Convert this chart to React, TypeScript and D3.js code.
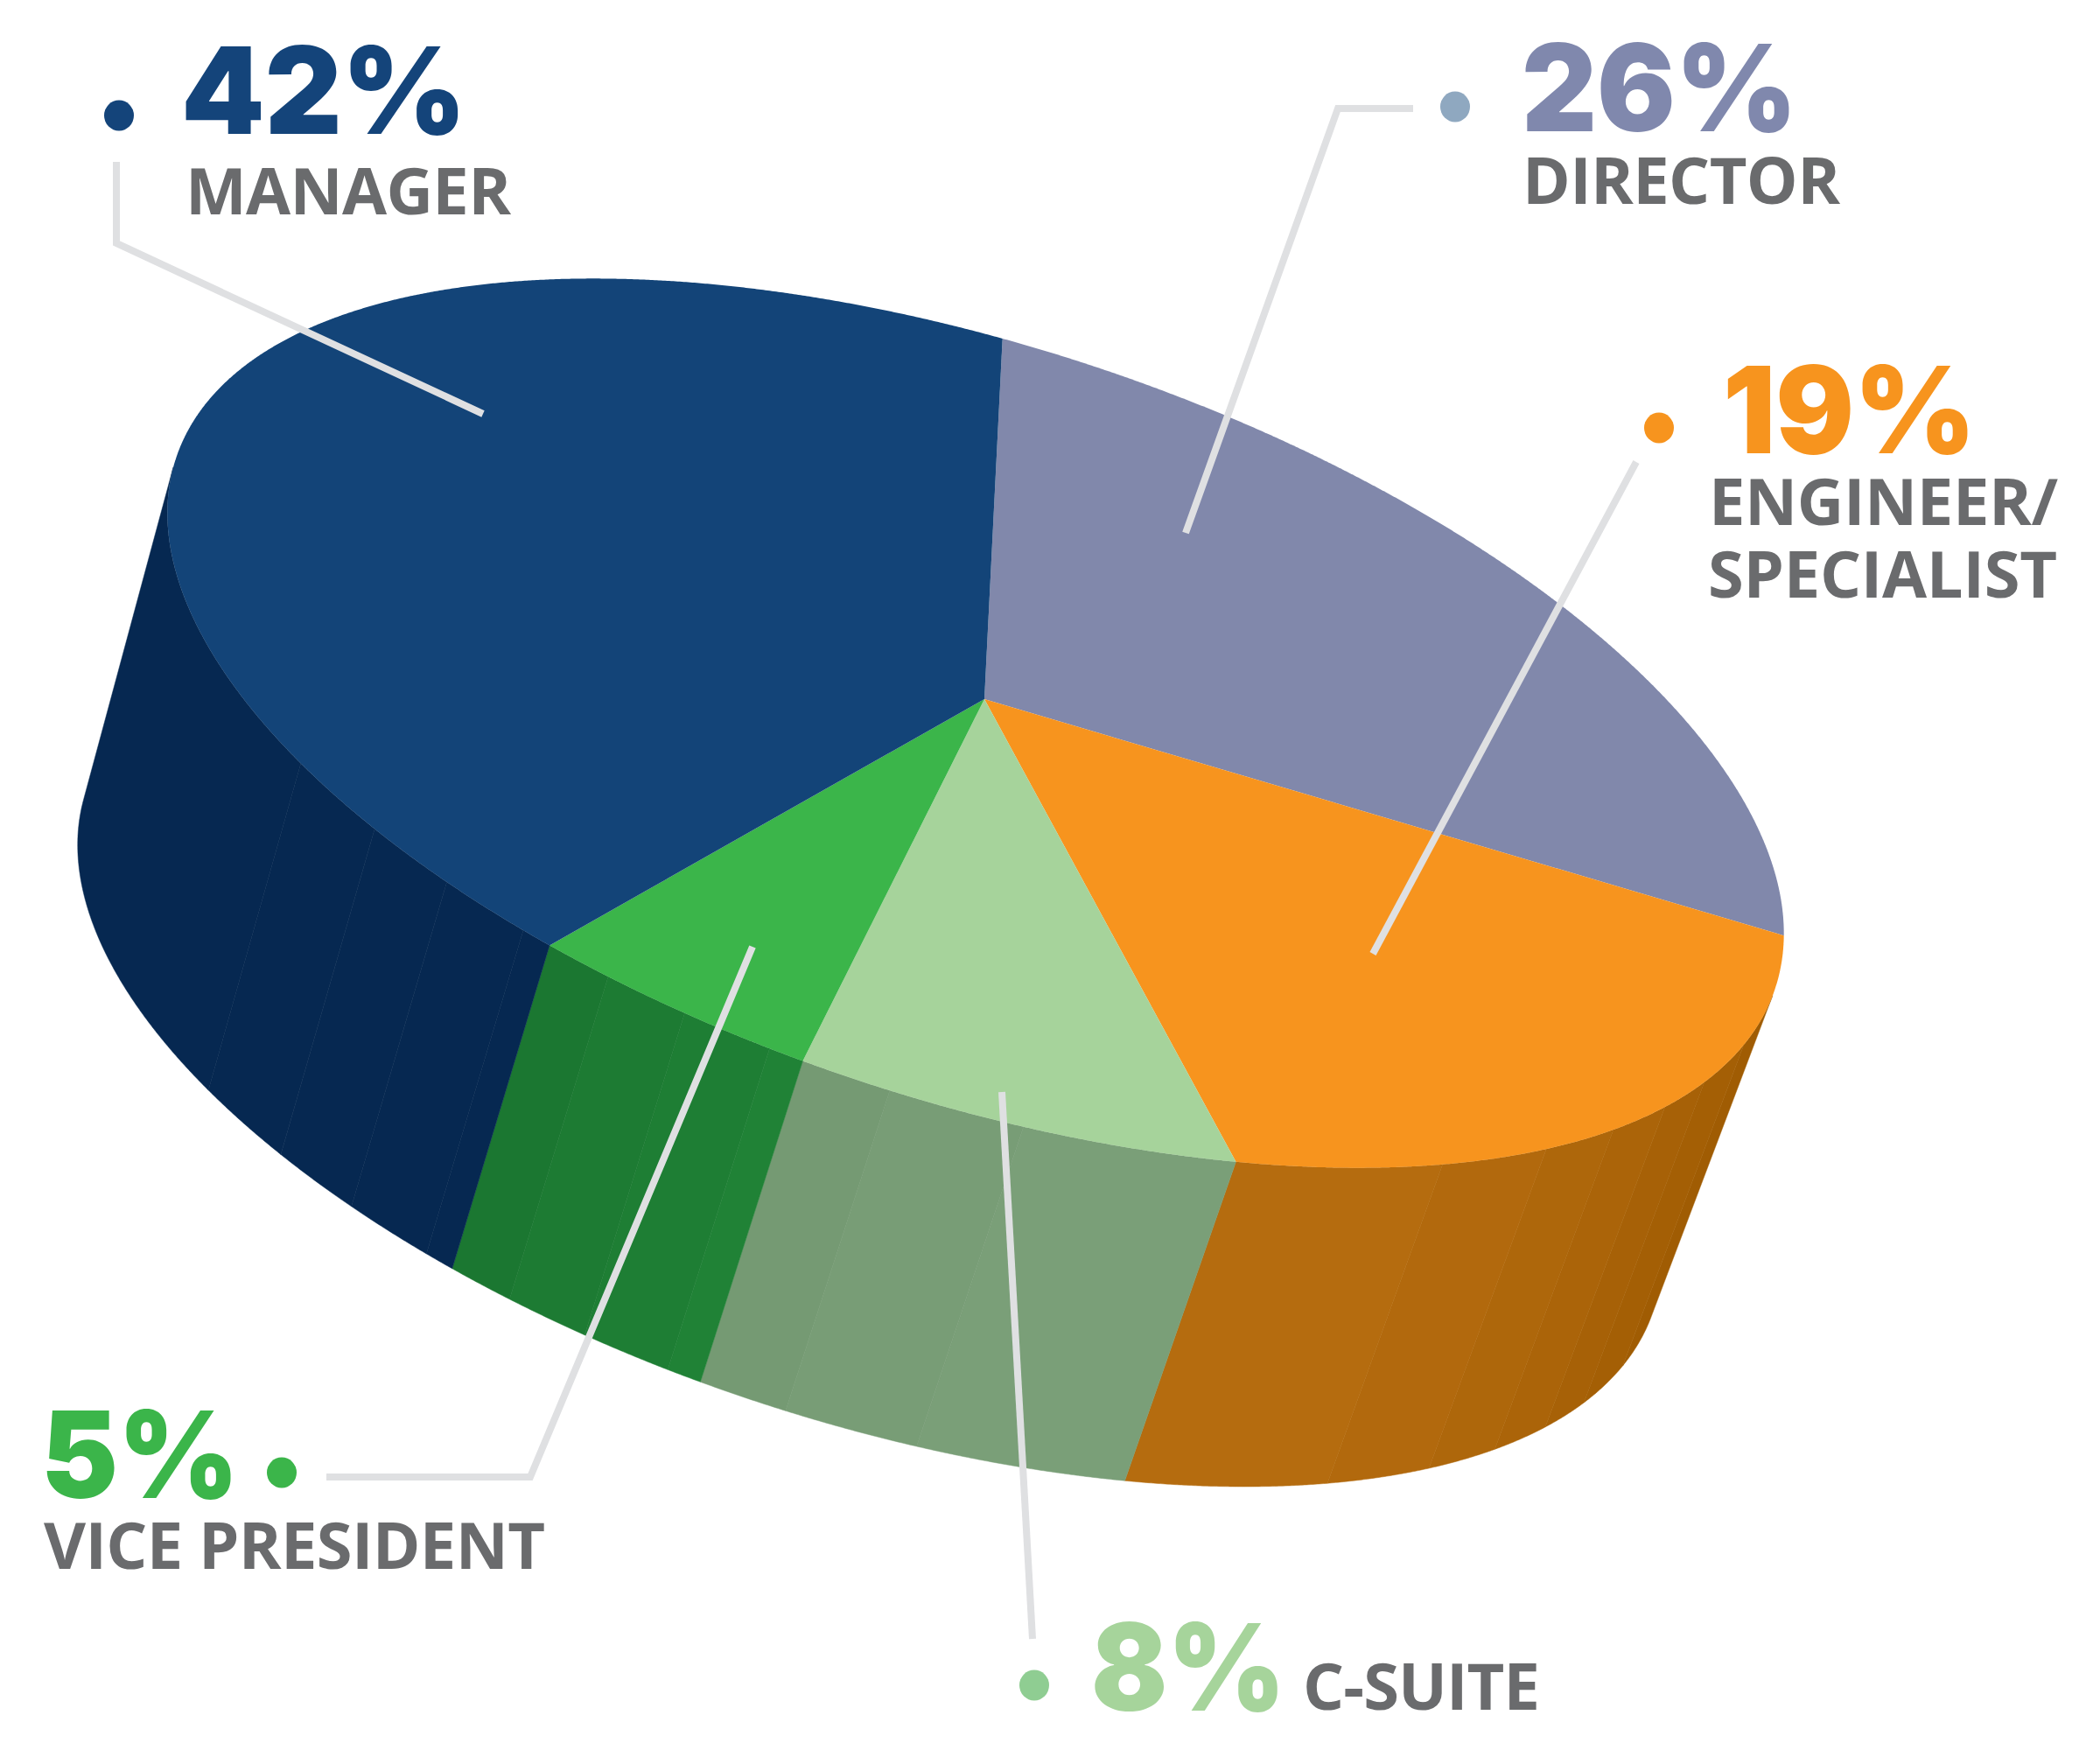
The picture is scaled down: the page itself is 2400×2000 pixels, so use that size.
import React from "react";
import * as d3 from "d3";

const categories = ["Director", "Engineer/Specialist", "C-Suite", "Vice President", "Manager"];
const shares = [26, 19, 8, 5, 42];
const topColors = ["#8188ab", "#f7941e", "#a6d39b", "#3bb54a", "#134478"];
const sideNear = ["#8188ab", "#a05c03", "#7a9f78", "#208236", "#062851"];
const sideFar = ["#8188ab", "#b56c0f", "#759a73", "#1b7731", "#062851"];
const facetStops = [18, 25.6, 31.3, 37.8, 45, 54.6, 86.5, 96, 104.7, 111, 117, 124, 130.7, 137.9, 146.5];

const percentLabels = [
  { text: "26%", x0: 1739, x1: 2054, y: 150, fill: "#8088ad" },
  { text: "19%", x0: 1969, x1: 2258, y: 518, fill: "#f7941e" },
  { text: "8%", x0: 1247, x1: 1469, y: 1955, fill: "#a6d49b" },
  { text: "5%", x0: 47, x1: 273, y: 1712, fill: "#3bb54a" },
  { text: "42%", x0: 207, x1: 533, y: 153, fill: "#14447a" },
];
const nameLabels = [
  { text: "DIRECTOR", x0: 1740, x1: 2103, y: 233 },
  { text: "ENGINEER/", x0: 1953, x1: 2352, y: 600 },
  { text: "SPECIALIST", x0: 1952, x1: 2351, y: 683 },
  { text: "C-SUITE", x0: 1489, x1: 1760, y: 1954 },
  { text: "VICE PRESIDENT", x0: 50, x1: 623, y: 1793 },
  { text: "MANAGER", x0: 212, x1: 584, y: 245 },
];
const legendDots = [
  { x: 1663, y: 122, fill: "#8fa8c0" },
  { x: 1896, y: 489, fill: "#f7941e" },
  { x: 1182, y: 1926, fill: "#8fcd92" },
  { x: 322, y: 1683, fill: "#3bb54a" },
  { x: 136, y: 132, fill: "#14447a" },
];
const leaders: [number, number][][] = [
  [[1615, 124], [1529, 124], [1355, 609]],
  [[1870, 528], [1569, 1090]],
  [[1145, 1248], [1180, 1873]],
  [[373, 1688], [606, 1688], [860, 1082]],
  [[133, 185], [133, 278], [552, 473]],
];

// geometry of the tilted disc
const C = { x: 1115, y: 826.5 };
const L = { xx: 923.7, yx: 240.2, yy: 447.8 };
const apex = { x: 1125, y: 799 };
const K = 0.98;
const C2 = { x: 994, y: 1201 };
const PERSPECTIVE = 1.18;
const START_DEG = 1.3;

const invL = (x: number, y: number) => {
  const nx = x / L.xx;
  return { x: nx, y: (y - L.yx * nx) / L.yy };
};
const pn = invL(apex.x - C.x, apex.y - C.y);
const s0 = Math.hypot(pn.x, pn.y);
const s = s0 * PERSPECTIVE;
const u = { x: pn.x / s0, y: pn.y / s0 };
const v = { x: -u.y, y: u.x };

const disc = (theta: number) => {
  const cx = Math.cos(theta), cy = Math.sin(theta);
  const a = cx * u.x + cy * u.y, b = cx * v.x + cy * v.y;
  const d = 1 + s * a;
  const a2 = (a + s) / d, b2 = (b * Math.sqrt(1 - s * s)) / d;
  return { x: a2 * u.x + b2 * v.x, y: a2 * u.y + b2 * v.y };
};
const top = (n: { x: number; y: number }): [number, number] => [C.x + L.xx * n.x, C.y + L.yx * n.x + L.yy * n.y];
const bot = (n: { x: number; y: number }): [number, number] => [
  C2.x + K * L.xx * n.x,
  C2.y + K * (L.yx * n.x + L.yy * n.y),
];

const dn = invL(C2.x - C.x, C2.y - C.y);
const phi = (Math.atan2(dn.y, dn.x) * 180) / Math.PI;
const delta = (Math.asin((1 - K) / Math.hypot(dn.x, dn.y)) * 180) / Math.PI;
const tR = phi - 90 + delta;
const tL = phi + 90 - delta;

const slices = d3
  .pie<number>()
  .sort(null)
  .startAngle((START_DEG * Math.PI) / 180)
  .endAngle(((START_DEG + 360) * Math.PI) / 180)(shares);

const line = d3.line();
const STEP = 0.003;

const samples = (a0: number, a1: number) =>
  d3.range(a0, a1, STEP).concat(a1).map((a) => disc(a - Math.PI / 2));

type Facet = { d: string; fill: string; key: string };
const facets: Facet[] = [];
slices.forEach((sl, i) => {
  const groups = new Map<number, { x: number; y: number }[]>();
  let prev = -1;
  samples(sl.startAngle, sl.endAngle).forEach((n) => {
    const t = ((Math.atan2(n.y, n.x) * 180) / Math.PI + 360) % 360;
    if (t < tR || t > tL) {
      prev = -1;
      return;
    }
    const idx = d3.bisectLeft(facetStops, t);
    if (!groups.has(idx)) groups.set(idx, []);
    if (prev !== -1 && prev !== idx) groups.get(prev)!.push(n);
    groups.get(idx)!.push(n);
    prev = idx;
  });
  const keys = [...groups.keys()].sort((a, b) => a - b);
  const ramp = d3.interpolateRgb(sideNear[i], sideFar[i]);
  keys.forEach((k, j) => {
    const pts = groups.get(k)!;
    const poly = [...pts.map(top), ...pts.slice().reverse().map(bot)];
    facets.push({
      key: `${i}-${k}`,
      d: line(poly) + "Z",
      fill: ramp(keys.length > 1 ? j / (keys.length - 1) : 0),
    });
  });
});

const tops = slices.map((sl) => {
  const pts = samples(sl.startAngle, sl.endAngle).map(top);
  return line([[apex.x, apex.y], ...pts]) + "Z";
});

export default function App() {
  return (
    <svg
      width={2400}
      height={2000}
      viewBox="0 0 2400 2000"
      style={{ position: "absolute", left: 0, top: 0, background: "#fff" }}
    >
      <g>
        {facets.map((f) => (
          <path key={f.key} d={f.d} fill={f.fill} stroke={f.fill} strokeWidth={0.5} />
        ))}
      </g>
      <g>
        {tops.map((d, i) => (
          <path key={categories[i]} d={d} fill={topColors[i]} />
        ))}
      </g>
      <g fill="none" stroke="#dfe0e2" strokeWidth={8} strokeLinejoin="miter">
        {leaders.map((pts, i) => (
          <path key={i} d={line(pts)!} />
        ))}
      </g>
      <g>
        {legendDots.map((p, i) => (
          <ellipse key={i} cx={p.x} cy={p.y} rx={17} ry={17.5} fill={p.fill} />
        ))}
      </g>
      <g fontFamily="Inter" fontWeight={900} fontSize={138}>
        {percentLabels.map((t) => (
          <text
            key={t.text}
            x={t.x0}
            y={t.y}
            fill={t.fill}
            textLength={t.x1 - t.x0}
            lengthAdjust="spacingAndGlyphs"
          >
            {t.text}
          </text>
        ))}
      </g>
      <g fontFamily="Open Sans" fontWeight={700} fontSize={74} fill="#6a6b6d">
        {nameLabels.map((t) => (
          <text key={t.text} x={t.x0} y={t.y} textLength={t.x1 - t.x0} lengthAdjust="spacing">
            {t.text}
          </text>
        ))}
      </g>
    </svg>
  );
}
